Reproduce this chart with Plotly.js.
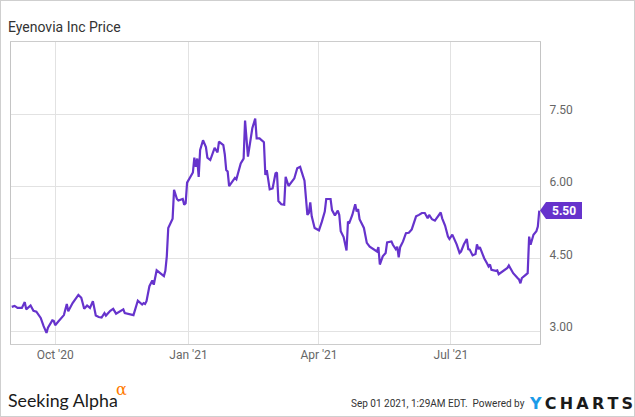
<!DOCTYPE html>
<html>
<head>
<meta charset="utf-8">
<script src="https://cdn.plot.ly/plotly-3.0.1.min.js"></script>
<style>
  html, body { margin: 0; padding: 0; background: #fff; }
  #frame { width: 635px; height: 417px; box-sizing: border-box; border: 1px solid #cfcfcf; position: relative; overflow: hidden; }
  #chart { position: absolute; left: -1px; top: -1px; width: 635px; height: 417px; }
</style>
</head>
<body>
<div id="frame"><div id="chart"></div></div>
<script>
'use strict'

// price series (daily closes, approx)
const dates = [
  '2020-09-01','2020-09-03','2020-09-05','2020-09-08','2020-09-10','2020-09-11','2020-09-14','2020-09-16','2020-09-18','2020-09-21',
  '2020-09-23','2020-09-25','2020-09-26','2020-09-29','2020-09-30','2020-10-01','2020-10-03','2020-10-07','2020-10-09','2020-10-10',
  '2020-10-13','2020-10-15','2020-10-17','2020-10-19','2020-10-21','2020-10-23','2020-10-25','2020-10-27','2020-10-29','2020-10-31',
  '2020-11-02','2020-11-04','2020-11-05','2020-11-08','2020-11-10','2020-11-12','2020-11-14','2020-11-17','2020-11-18','2020-11-22',
  '2020-11-24','2020-11-27','2020-11-30','2020-12-01','2020-12-02','2020-12-03','2020-12-05','2020-12-07','2020-12-08','2020-12-10',
  '2020-12-13','2020-12-15','2020-12-16','2020-12-17','2020-12-18','2020-12-21','2020-12-22','2020-12-24','2020-12-25','2020-12-28',
  '2020-12-29','2020-12-30','2020-12-31','2021-01-03','2021-01-04','2021-01-05','2021-01-06','2021-01-07','2021-01-08','2021-01-09',
  '2021-01-11','2021-01-13','2021-01-14','2021-01-16','2021-01-17','2021-01-19','2021-01-21','2021-01-22','2021-01-25','2021-01-26',
  '2021-01-27','2021-01-28','2021-01-29','2021-02-01','2021-02-02','2021-02-03','2021-02-05','2021-02-06','2021-02-08','2021-02-09',
  '2021-02-11','2021-02-13','2021-02-14','2021-02-16','2021-02-17','2021-02-19','2021-02-22','2021-02-23','2021-02-24','2021-02-26',
  '2021-02-28','2021-03-02','2021-03-03','2021-03-04','2021-03-06','2021-03-08','2021-03-09','2021-03-11','2021-03-13','2021-03-15',
  '2021-03-17','2021-03-19','2021-03-20','2021-03-22','2021-03-24','2021-03-25','2021-03-26','2021-03-27','2021-03-29','2021-03-30',
  '2021-04-01','2021-04-03','2021-04-05','2021-04-06','2021-04-09','2021-04-10','2021-04-12','2021-04-14','2021-04-15','2021-04-16',
  '2021-04-18','2021-04-20','2021-04-21','2021-04-22','2021-04-24','2021-04-26','2021-04-27','2021-04-28','2021-04-29','2021-05-02',
  '2021-05-04','2021-05-06','2021-05-09','2021-05-11','2021-05-12','2021-05-13','2021-05-15','2021-05-17','2021-05-18','2021-05-21',
  '2021-05-22','2021-05-24','2021-05-25','2021-05-26','2021-05-27','2021-05-29','2021-05-31','2021-06-02','2021-06-04','2021-06-06',
  '2021-06-07','2021-06-09','2021-06-11','2021-06-13','2021-06-15','2021-06-16','2021-06-18','2021-06-20','2021-06-22','2021-06-24',
  '2021-06-25','2021-06-27','2021-06-29','2021-06-30','2021-07-02','2021-07-04','2021-07-05','2021-07-07','2021-07-08','2021-07-10',
  '2021-07-12','2021-07-13','2021-07-14','2021-07-16','2021-07-18','2021-07-19','2021-07-20','2021-07-21','2021-07-24','2021-07-26',
  '2021-07-27','2021-07-28','2021-07-29','2021-08-01','2021-08-02','2021-08-03','2021-08-05','2021-08-07','2021-08-09','2021-08-10',
  '2021-08-12','2021-08-13','2021-08-16','2021-08-17','2021-08-18','2021-08-19','2021-08-21','2021-08-23','2021-08-24','2021-08-25',
  '2021-08-27','2021-08-29','2021-08-30','2021-08-31'
];

const prices = [
  3.50,3.52,3.48,3.48,3.60,3.45,3.53,3.42,3.40,3.27,
  3.10,2.96,3.07,3.22,3.21,3.12,3.19,3.33,3.56,3.41,
  3.58,3.67,3.75,3.69,3.46,3.53,3.48,3.62,3.32,3.29,
  3.28,3.37,3.32,3.42,3.46,3.36,3.39,3.45,3.37,3.34,
  3.33,3.63,3.55,3.58,3.56,3.62,3.93,4.05,3.96,4.26,
  4.19,4.14,4.25,4.55,5.14,5.33,5.93,5.74,5.71,5.74,
  5.62,5.65,6.08,6.22,6.29,6.60,6.41,6.58,6.20,6.76,
  6.96,6.82,6.60,6.55,6.64,6.80,6.71,6.93,6.86,6.67,
  6.34,6.31,6.01,6.14,6.18,6.15,6.38,6.48,6.58,7.37,
  6.62,7.03,7.21,7.41,7.00,7.00,6.92,6.24,6.34,5.94,
  5.96,6.27,6.29,5.70,5.63,5.62,6.20,6.01,6.08,6.17,
  6.38,6.41,6.31,6.12,5.41,5.45,5.67,5.38,5.14,5.12,
  5.09,5.27,5.48,5.74,5.74,5.51,5.40,5.50,5.41,5.07,
  4.95,4.67,5.27,5.25,5.41,5.63,5.48,5.53,5.32,5.14,
  4.83,4.75,4.70,4.65,4.74,4.38,4.55,4.62,4.84,4.86,
  4.79,4.70,4.75,4.53,4.74,4.86,5.03,5.04,5.11,5.29,
  5.38,5.41,5.45,5.45,5.34,5.41,5.32,5.29,5.38,5.46,
  5.34,5.19,4.96,4.91,5.00,4.86,4.80,4.62,4.65,4.80,
  4.91,4.70,4.69,4.57,4.60,4.80,4.70,4.74,4.51,4.40,
  4.34,4.38,4.27,4.25,4.26,4.18,4.22,4.26,4.31,4.36,
  4.26,4.20,4.10,4.07,3.99,4.10,4.15,4.20,4.96,4.79,
  5.00,5.07,5.17,5.50
];

const xTickVals = ['2020-10-01', '2021-01-01', '2021-04-01', '2021-07-01'];
const xTickText = ["Oct '20", "Jan '21", "Apr '21", "Jul '21"];
const yTickVals = [3.0, 4.5, 6.0, 7.5];
const yTickText = ['3.00', '4.50', '6.00', '7.50'];

const purple = '#6633cc';
const lastPrice = prices[prices.length - 1];

let trace = {
    x: dates,
    y: prices,
    type: 'scatter',
    mode: 'lines',
    line: {color: purple, width: 2.2},
    hoverinfo: 'skip'
};

let layout = {
    width: 635,
    height: 417,
    margin: {l: 11, r: 95, t: 42, b: 73},
    paper_bgcolor: 'rgba(0,0,0,0)',
    plot_bgcolor: '#fff',
    showlegend: false,
    font: {family: 'Roboto, sans-serif', size: 12, color: '#666'},
    title: {
        text: 'Eyenovia Inc Price',
        font: {family: 'Roboto, sans-serif', size: 14, color: '#333'},
        xref: 'container', x: 8 / 635, xanchor: 'left',
        yref: 'container', y: 1 - 27 / 417, yanchor: 'middle'
    },
    xaxis: {
        type: 'date',
        range: ['2020-08-31 12:00', '2021-08-31 12:00'],
        tickvals: xTickVals,
        ticktext: xTickText,
        showgrid: true,
        gridcolor: '#e2e2e2',
        gridwidth: 1,
        showline: true,
        mirror: true,
        linecolor: '#cccccc',
        linewidth: 1,
        ticks: '',
        zeroline: false,
        tickfont: {size: 12, color: '#666'}
    },
    yaxis: {
        side: 'right',
        range: [2.73, 9.0],
        tickvals: yTickVals,
        ticktext: yTickText,
        ticklabelposition: 'outside top',
        ticklabelstandoff: 6,
        ticklabelshift: 4,
        showgrid: true,
        gridcolor: '#e2e2e2',
        gridwidth: 1,
        showline: true,
        mirror: true,
        linecolor: '#c4c4c4',
        linewidth: 1,
        ticks: '',
        zeroline: false,
        tickfont: {size: 12, color: '#666'}
    },
    shapes: [{
        // last price badge
        type: 'path',
        xref: 'paper', yref: 'y',
        xsizemode: 'pixel', ysizemode: 'pixel',
        xanchor: 1, yanchor: lastPrice,
        path: 'M0,0 L6,8.5 L42,8.5 L42,-8.5 L6,-8.5 Z',
        fillcolor: purple,
        line: {width: 0}
    }],
    annotations: [
        {
            xref: 'paper', yref: 'y', x: 1, y: lastPrice,
            xanchor: 'center', yanchor: 'middle', xshift: 24,
            text: '<b>' + lastPrice.toFixed(2) + '</b>',
            showarrow: false,
            font: {family: 'Roboto, sans-serif', size: 12, color: '#fff'}
        },
        {
            xref: 'paper', yref: 'paper', x: -11 / 529, y: -56 / 302,
            xanchor: 'left', yanchor: 'middle', xshift: 6,
            text: 'Seeking Alpha',
            showarrow: false,
            font: {family: 'Lato, sans-serif', size: 17.8, color: '#1a1a1a'}
        },
        {
            xref: 'paper', yref: 'paper', x: 110 / 529, y: -45 / 302,
            xanchor: 'center', yanchor: 'middle',
            text: '\u03b1',
            showarrow: false,
            font: {family: 'DejaVu Serif, serif', size: 16, color: '#ff7a00'}
        },
        {
            xref: 'paper', yref: 'paper', x: 1, y: -60 / 302,
            xanchor: 'right', yanchor: 'middle', xshift: -13,
            text: 'Sep 01 2021, 1:29AM EDT.  Powered by',
            showarrow: false,
            font: {family: 'Roboto, sans-serif', size: 10, color: '#333'}
        },
        {
            xref: 'paper', yref: 'paper', x: 1, y: -60 / 302,
            xanchor: 'left', yanchor: 'middle', xshift: -13,
            text: '<b><span style="color:#1a9be8">Y</span>\u2009C\u2009H\u2009A\u2009R\u2009T\u2009S</b>',
            showarrow: false,
            font: {family: 'DejaVu Sans, sans-serif', size: 16, color: '#1a1a1a'}
        }
    ]
};

Plotly.newPlot('chart', [trace], layout, {displayModeBar: false, staticPlot: true});
</script>
</body>
</html>
